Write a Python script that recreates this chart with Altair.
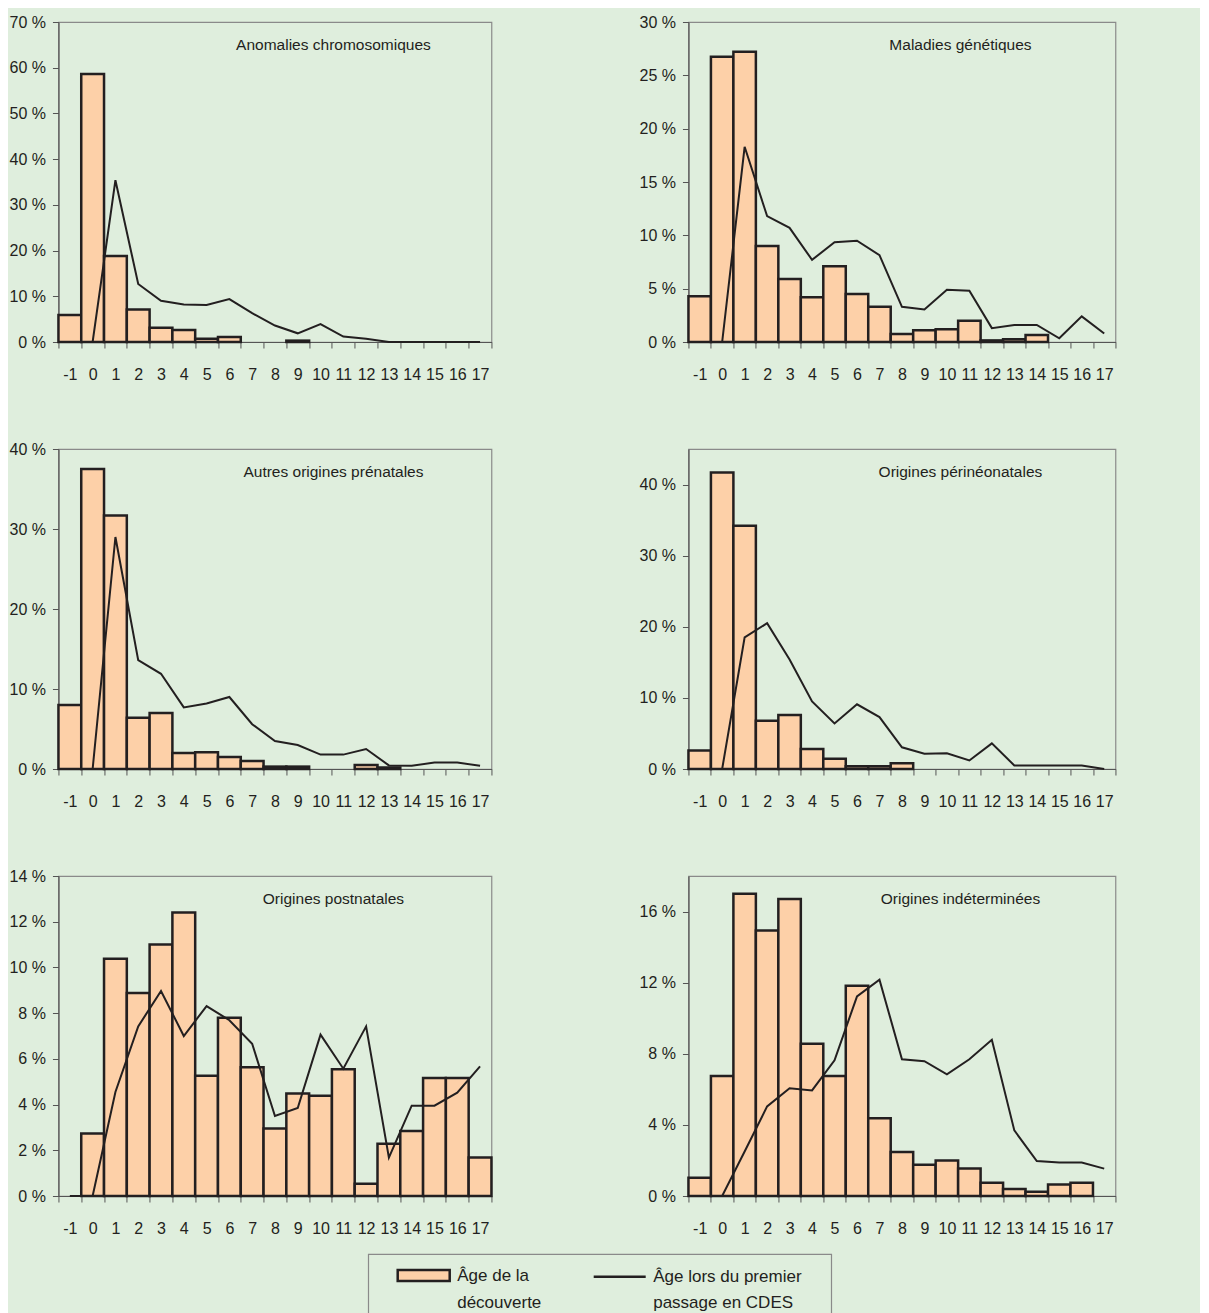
import altair as alt
import pandas as pd

# ---------------- data ----------------
ages = [str(a) for a in range(-1, 18)]

titles = [
    "Anomalies chromosomiques",
    "Maladies génétiques",
    "Autres origines prénatales",
    "Origines périnéonatales",
    "Origines postnatales",
    "Origines indéterminées",
]

# Âge de la découverte (bars, %)
decouverte_anomalies = [5.9, 58.6, 18.8, 7.1, 3.1, 2.6, 0.7, 1.1, 0, 0, 0.3, 0, 0, 0, 0, 0, 0, 0, 0]
decouverte_genetiques = [4.3, 26.75, 27.2, 9.0, 5.9, 4.2, 7.1, 4.5, 3.3, 0.75, 1.1, 1.2, 2.0, 0.15, 0.25, 0.65, 0, 0, 0]
decouverte_prenatales = [8.0, 37.5, 31.7, 6.4, 7.0, 2.0, 2.1, 1.5, 1.0, 0.3, 0.3, 0, 0, 0.5, 0.2, 0, 0, 0, 0]
decouverte_perineonatales = [2.6, 41.7, 34.2, 6.8, 7.6, 2.8, 1.45, 0.4, 0.4, 0.8, 0, 0, 0, 0, 0, 0, 0, 0, 0]
decouverte_postnatales = [0, 2.73, 10.38, 8.88, 11.0, 12.4, 5.26, 7.8, 5.63, 2.95, 4.48, 4.39, 5.54, 0.54, 2.29, 2.84, 5.16, 5.16, 1.68]
decouverte_indeterminees = [1.03, 6.75, 17.0, 14.93, 16.7, 8.57, 6.75, 11.83, 4.37, 2.48, 1.76, 1.99, 1.54, 0.75, 0.39, 0.24, 0.64, 0.75, 0]

# Âge lors du premier passage en CDES (line, %)
cdes_anomalies = [0, 0, 35.4, 12.7, 9.0, 8.2, 8.1, 9.4, 6.3, 3.6, 1.9, 3.9, 1.2, 0.7, 0, 0, 0, 0, 0]
cdes_genetiques = [0, 0, 18.3, 11.8, 10.7, 7.7, 9.35, 9.5, 8.15, 3.3, 3.05, 4.9, 4.8, 1.3, 1.6, 1.6, 0.35, 2.4, 0.8]
cdes_prenatales = [0, 0, 29.0, 13.6, 11.9, 7.7, 8.2, 9.0, 5.6, 3.5, 3.0, 1.8, 1.8, 2.5, 0.45, 0.4, 0.8, 0.8, 0.4]
cdes_perineonatales = [0, 0, 18.5, 20.5, 15.4, 9.5, 6.4, 9.1, 7.3, 3.05, 2.15, 2.2, 1.2, 3.6, 0.5, 0.5, 0.5, 0.5, 0]
cdes_postnatales = [0, 0, 4.55, 7.42, 8.97, 7.0, 8.31, 7.69, 6.66, 3.5, 3.85, 7.06, 5.57, 7.42, 1.68, 3.95, 3.95, 4.52, 5.67]
cdes_indeterminees = [0, 0, 2.5, 5.04, 6.06, 5.94, 7.63, 11.23, 12.17, 7.69, 7.58, 6.84, 7.69, 8.79, 3.69, 1.97, 1.88, 1.88, 1.54]

y_max = [70, 30, 40, 45, 14, 18]
y_step = [10, 5, 5, 5, 2, 2]

legend_labels = [["Âge de la", "découverte"], ["Âge lors du premier", "passage en CDES"]]

# ---------------- style ----------------
BG = "#dfeedd"
BAR_FILL = "#fdd0a8"
INK = "#231f20"
AXIS_GREY = "#555555"
FRAME = "#8a8a8a"
FONT = "'Liberation Sans', Arial, sans-serif"

bars_all = [decouverte_anomalies, decouverte_genetiques, decouverte_prenatales,
            decouverte_perineonatales, decouverte_postnatales, decouverte_indeterminees]
lines_all = [cdes_anomalies, cdes_genetiques, cdes_prenatales,
             cdes_perineonatales, cdes_postnatales, cdes_indeterminees]


def panel(i, width, title_x):
    df = pd.DataFrame({"age": ages, "decouverte": bars_all[i], "cdes": lines_all[i]})
    x = alt.X(
        "age:O",
        sort=ages,
        scale=alt.Scale(domain=ages, paddingInner=0, paddingOuter=0),
        axis=alt.Axis(
            title=None, labelAngle=0, tickBand="extent", tickSize=6,
            labelPadding=18, labelFont=FONT, labelFontSize=16, labelColor=INK,
            labelOverlap=False,
            tickColor=AXIS_GREY, domainColor=AXIS_GREY, domainWidth=1.2, grid=False,
        ),
    )
    ys = alt.Scale(domain=[0, y_max[i]], nice=False, zero=True)
    yaxis = alt.Axis(
        title=None, values=list(range(0, y_max[i] + 1, y_step[i])),
        labelExpr="datum.value + ' %'", tickSize=6, labelPadding=7, minExtent=49,
        labelFont=FONT, labelFontSize=16, labelColor=INK, labelOverlap=False,
        tickColor=AXIS_GREY, domainColor=AXIS_GREY, domainWidth=1.2, grid=False,
    )
    base = alt.Chart(df)
    bars = base.transform_filter("datum.decouverte > 0").mark_bar(
        fill=BAR_FILL, stroke=INK, strokeWidth=2.5
    ).encode(x=x, y=alt.Y("decouverte:Q", scale=ys, axis=yaxis))
    line = base.mark_line(color=INK, strokeWidth=2).encode(
        x=x, y=alt.Y("cdes:Q", scale=ys)
    )
    ttl = alt.Chart(pd.DataFrame({"t": [titles[i]]})).mark_text(
        font=FONT, fontSize=15.5, color=INK, align="center", baseline="alphabetic"
    ).encode(text="t:N", x=alt.value(title_x), y=alt.value(28))
    return alt.layer(bars, line, ttl).properties(width=width, height=320)


rows = []
for r in range(3):
    left = panel(2 * r, 433, 275)
    right = panel(2 * r + 1, 427, 272)
    rows.append(alt.hconcat(left, right, spacing=144).resolve_scale(x="independent", y="independent"))

panels = alt.vconcat(*rows, spacing=57).resolve_scale(x="independent", y="independent")

# ---------------- legend ----------------
# entries laid out row-wise in two columns: first lines, then second lines
leg_domain = [legend_labels[0][0], legend_labels[1][0], legend_labels[0][1], legend_labels[1][1]]
RECT_PATH = "M-2,-0.42H2V0.42H-2Z"
LINE_PATH = "M-2,0H2"
EMPTY_PATH = "M0,0"

leg = alt.Legend(
    orient="none", legendX=28, legendY=7, direction="horizontal", columns=2,
    title=None, padding=0, columnPadding=46, rowPadding=2,
    symbolSize=676, symbolOffset=13, labelOffset=19,
    symbolStrokeWidth=2.5, symbolOpacity=1,
    labelFont=FONT, labelFontSize=17, labelColor=INK, labelLimit=400,
)

leg_df = pd.DataFrame({"serie": leg_domain})
legend_box = alt.Chart(leg_df).transform_filter("datum.serie == '-'").mark_point(
    strokeWidth=2.5
).encode(
    fill=alt.Fill("serie:N", scale=alt.Scale(domain=leg_domain,
                  range=[BAR_FILL, "transparent", "transparent", "transparent"]), legend=leg),
    stroke=alt.Stroke("serie:N", scale=alt.Scale(domain=leg_domain,
                      range=[INK, INK, "transparent", "transparent"]), legend=leg),
    shape=alt.Shape("serie:N", scale=alt.Scale(domain=leg_domain,
                    range=[RECT_PATH, LINE_PATH, EMPTY_PATH, EMPTY_PATH]), legend=leg),
).properties(width=463, height=70,
             view=alt.ViewBackground(stroke=FRAME, strokeWidth=1.2))

# invisible spacer that shifts the centred legend box to the right
spacer = alt.Chart(leg_df).transform_filter("datum.serie == '-'").mark_point().encode(
    opacity=alt.value(0)
).properties(width=23, height=70, view=alt.ViewBackground(stroke="transparent"))

legend_row = alt.hconcat(spacer, legend_box, spacing=0).resolve_scale(
    fill="independent", stroke="independent", shape="independent"
)

chart = alt.vconcat(panels, legend_row, spacing=16, center=True).resolve_scale(
    x="independent", y="independent", fill="independent", stroke="independent",
    shape="independent"
).properties(
    background=BG, padding={"left": 0, "top": 5, "right": 83, "bottom": 5}
).configure_view(stroke=FRAME, strokeWidth=1.2)

chart.save("out.html", embed_options={"renderer": "svg", "actions": False})
